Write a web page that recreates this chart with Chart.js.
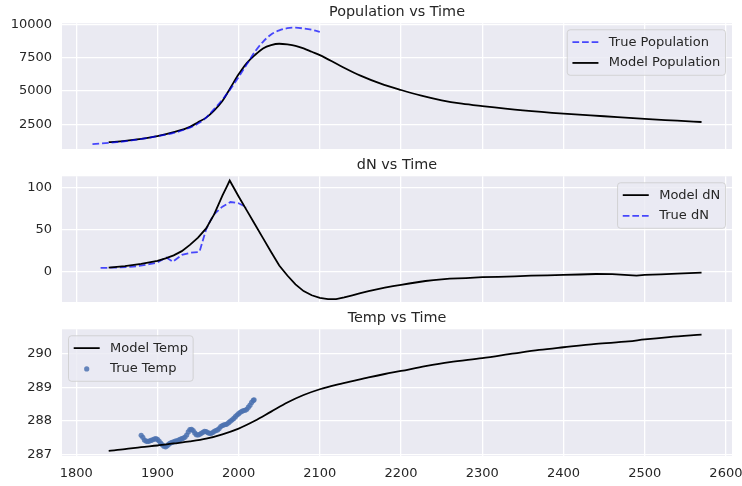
<!DOCTYPE html>
<html>
<head>
<meta charset="utf-8">
<script src="https://cdn.jsdelivr.net/npm/chart.js@4.4.0/dist/chart.umd.min.js"></script>
<style>
  body { margin: 0; background: #fff; width: 742px; height: 486px; overflow: hidden; position: relative; }
  canvas { position: absolute; left: 0; }
</style>
</head>
<body>
<canvas id="popChart" width="742" height="150" style="top:0px"></canvas>
<canvas id="dnChart" width="742" height="150" style="top:153px"></canvas>
<canvas id="tempChart" width="742" height="180" style="top:306px"></canvas>
<script>
// shared x axis
const xTicks = [1800, 1900, 2000, 2100, 2200, 2300, 2400, 2500, 2600];

// Population vs Time
const popYears = [1840, 1860, 1880, 1900, 1920, 1940, 1950, 1960, 1970, 1980, 1990, 2000, 2010, 2020, 2030, 2040, 2050, 2060, 2070, 2080, 2090, 2100, 2125, 2150, 2175, 2200, 2225, 2250, 2275, 2300, 2350, 2400, 2450, 2500, 2540, 2570];
const popModel = [1150, 1250, 1400, 1600, 1900, 2300, 2650, 3000, 3550, 4250, 5250, 6250, 7100, 7700, 8200, 8450, 8550, 8500, 8400, 8200, 7950, 7700, 6900, 6150, 5550, 5075, 4650, 4300, 4050, 3870, 3550, 3300, 3100, 2900, 2770, 2670];
const popTrueYears = [1820, 1850, 1870, 1900, 1920, 1940, 1950, 1960, 1970, 1980, 1990, 2000, 2010, 2020, 2030, 2040, 2050, 2060, 2070, 2080, 2090, 2100];
const popTrue = [1000, 1150, 1300, 1600, 1850, 2250, 2550, 3000, 3650, 4350, 5150, 6050, 7000, 7950, 8700, 9250, 9550, 9720, 9760, 9700, 9600, 9450];
const popTicks = [2500, 5000, 7500, 10000];

// dN vs Time
const dnYears = [1840, 1860, 1880, 1900, 1910, 1920, 1930, 1940, 1950, 1960, 1970, 1980, 1985, 1989, 2000, 2010, 2020, 2030, 2040, 2050, 2060, 2070, 2080, 2090, 2100, 2110, 2120, 2130, 2140, 2150, 2160, 2170, 2180, 2190, 2200, 2210, 2220, 2230, 2240, 2250, 2260, 2270, 2280, 2300, 2320, 2340, 2360, 2380, 2400, 2420, 2440, 2460, 2480, 2490, 2500, 2520, 2540, 2570];
const dnModel = [4.5, 6.3, 8.8, 12.5, 15.5, 19, 24, 31.5, 40, 51, 68, 90, 100, 108, 89, 72.5, 56, 39.5, 23, 7, -5, -15.5, -23.5, -28.5, -31.5, -33, -33, -31, -28.5, -26, -23.5, -21.5, -19.5, -17.5, -16, -14.5, -13, -11.5, -10.5, -9.5, -8.8, -8.5, -8, -7, -6.5, -6, -5.2, -4.8, -4.3, -3.8, -3.2, -3.4, -4.5, -5.0, -4.2, -3.6, -2.8, -1.5];
const dnTrueYears = [1830, 1850, 1870, 1890, 1900, 1911, 1919, 1930, 1940, 1950, 1952, 1960, 1965, 1970, 1980, 1990, 2000, 2010];
const dnTrue = [4, 4.5, 5.5, 8.5, 10.5, 16.5, 11.5, 19.5, 22, 23, 24, 50, 60, 68, 77, 82.5, 81, 76];
const dnTicks = [0, 50, 100];

// Temp vs Time
const tempYears = [1840, 1860, 1880, 1900, 1920, 1940, 1960, 1980, 2000, 2020, 2040, 2060, 2080, 2100, 2120, 2140, 2160, 2180, 2200, 2230, 2260, 2300, 2340, 2370, 2400, 2440, 2480, 2500, 2530, 2570];
const tempModel = [287.12, 287.17, 287.23, 287.28, 287.34, 287.40, 287.48, 287.61, 287.78, 288.01, 288.28, 288.55, 288.77, 288.94, 289.07, 289.18, 289.29, 289.39, 289.48, 289.62, 289.74, 289.86, 290.0, 290.1, 290.18, 290.28, 290.35, 290.41, 290.48, 290.55];
const tempTrueYears = [1880, 1882, 1884, 1886, 1888, 1890, 1892, 1894, 1896, 1898, 1900, 1902, 1904, 1906, 1908, 1910, 1912, 1914, 1916, 1918, 1920, 1922, 1924, 1926, 1928, 1930, 1932, 1934, 1936, 1938, 1940, 1942, 1944, 1946, 1948, 1950, 1952, 1954, 1956, 1958, 1960, 1962, 1964, 1966, 1968, 1970, 1972, 1974, 1976, 1978, 1980, 1982, 1984, 1986, 1988, 1990, 1992, 1994, 1996, 1998, 2000, 2002, 2004, 2006, 2008, 2010, 2012, 2014, 2016, 2018, 2019];
const tempTrue = [287.58, 287.52, 287.44, 287.41, 287.40, 287.41, 287.43, 287.45, 287.47, 287.48, 287.46, 287.41, 287.35, 287.30, 287.26, 287.24, 287.27, 287.32, 287.35, 287.37, 287.39, 287.41, 287.42, 287.44, 287.46, 287.48, 287.50, 287.53, 287.59, 287.68, 287.75, 287.76, 287.72, 287.65, 287.60, 287.59, 287.61, 287.64, 287.67, 287.70, 287.69, 287.66, 287.64, 287.64, 287.66, 287.70, 287.72, 287.74, 287.78, 287.84, 287.87, 287.89, 287.90, 287.92, 287.96, 288.00, 288.04, 288.08, 288.13, 288.18, 288.22, 288.26, 288.29, 288.31, 288.32, 288.35, 288.41, 288.47, 288.55, 288.61, 288.63];
const tempTicks = [287, 288, 289, 290];

const FONT = "'DejaVu Sans', sans-serif";
const TEXT = '#262626';
const BLUE_DASH = 'rgba(0, 0, 255, 0.7)';
const DOT = 'rgba(76, 114, 176, 0.85)';

Chart.defaults.font.family = FONT;
Chart.defaults.font.size = 13;
Chart.defaults.color = TEXT;

const pts = (xs, ys) => xs.map((x, i) => ({ x: x, y: ys[i] }));

// grey plot background like seaborn darkgrid
const plotBg = {
    id: 'plotBg',
    beforeDraw(chart) {
        const { ctx, chartArea: a } = chart;
        ctx.save();
        ctx.fillStyle = '#eaeaf2';
        ctx.fillRect(a.left, a.top, a.right - a.left, a.bottom - a.top);
        ctx.restore();
    }
};

// legend drawn inside the plot, matplotlib style
const boxLegend = {
    id: 'boxLegend',
    afterDatasetsDraw(chart, args, opts) {
        const { ctx, chartArea: a } = chart;
        const fs = 13, pad = 0.4 * fs, handle = 2 * fs, textPad = 0.8 * fs;
        const rowH = 1.1 * fs, gap = 0.5 * fs, margin = 0.5 * fs;
        const items = chart.data.datasets;
        ctx.save();
        ctx.font = fs + 'px ' + FONT;
        const tw = Math.max(...items.map(d => ctx.measureText(d.label).width));
        const w = pad * 2 + handle + textPad + tw;
        const h = pad * 2 + items.length * rowH + (items.length - 1) * gap;
        const x = opts.side === 'left' ? a.left + margin : a.right - margin - w;
        const y = a.top + margin;
        ctx.beginPath();
        ctx.roundRect(x, y, w, h, 3);
        ctx.fillStyle = 'rgba(234, 234, 242, 0.8)';
        ctx.fill();
        ctx.strokeStyle = 'rgba(204, 204, 204, 0.8)';
        ctx.lineWidth = 1;
        ctx.stroke();
        items.forEach((d, i) => {
            const cy = y + pad + rowH / 2 + i * (rowH + gap);
            const hx = x + pad;
            if (d.showLine === false) {
                ctx.beginPath();
                ctx.arc(hx + handle / 2, cy, d.pointRadius, 0, Math.PI * 2);
                ctx.fillStyle = d.pointBackgroundColor;
                ctx.fill();
            } else {
                ctx.beginPath();
                ctx.setLineDash(d.borderDash || []);
                ctx.moveTo(hx, cy);
                ctx.lineTo(hx + handle, cy);
                ctx.strokeStyle = d.borderColor;
                ctx.lineWidth = d.borderWidth;
                ctx.stroke();
                ctx.setLineDash([]);
            }
            ctx.fillStyle = TEXT;
            ctx.textBaseline = 'middle';
            ctx.textAlign = 'left';
            ctx.fillText(d.label, hx + handle + textPad, cy);
        });
        ctx.restore();
    }
};

const gridStyle = { color: '#ffffff', lineWidth: 1.3, drawTicks: false };

function xScale(showLabels) {
    return {
        type: 'linear',
        min: 1782.5,
        max: 2607.5,
        afterBuildTicks: s => { s.ticks = xTicks.map(v => ({ value: v })); },
        afterFit: s => {
            s.height = showLabels ? 30 : 0;
            s.paddingLeft = 0;
            s.paddingRight = 0;
        },
        grid: gridStyle,
        border: { display: false },
        ticks: { display: showLabels, padding: 10, maxRotation: 0, autoSkip: false, callback: v => String(v) }
    };
}

function yScale(min, max, ticks) {
    return {
        type: 'linear',
        min: min,
        max: max,
        afterBuildTicks: s => { s.ticks = ticks.map(v => ({ value: v })); },
        afterFit: s => {
            s.width = 62;
            s.paddingTop = 0;
            s.paddingBottom = 0;
        },
        grid: gridStyle,
        border: { display: false },
        ticks: { padding: 10, callback: v => String(v) }
    };
}

function titleOpts(text) {
    return {
        display: true,
        text: text,
        fullSize: false,
        color: TEXT,
        font: { family: FONT, size: 14.4, weight: 'normal' },
        padding: { top: 4, bottom: 2 }
    };
}

function makeChart(id, datasets, yMin, yMax, yTicks, title, legendSide, showX) {
    return new Chart(document.getElementById(id), {
        type: 'line',
        data: { datasets: datasets },
        options: {
            responsive: false,
            animation: false,
            events: [],
            layout: { padding: { left: 0, right: 10, top: 0, bottom: showX ? 0 : 1 } },
            scales: { x: xScale(showX), y: yScale(yMin, yMax, yTicks) },
            plugins: {
                legend: { display: false },
                tooltip: { enabled: false },
                title: titleOpts(title),
                boxLegend: { side: legendSide }
            }
        },
        plugins: [plotBg, boxLegend]
    });
}

const modelLine = (label, data, tension) => ({
    label: label, data: data,
    borderColor: '#000000', borderWidth: 1.8,
    pointRadius: 0, tension: tension,
    cubicInterpolationMode: tension ? 'monotone' : 'default'
});
const trueLine = (label, data) => ({
    label: label, data: data,
    borderColor: BLUE_DASH, borderWidth: 1.8, borderDash: [6.7, 2.9],
    pointRadius: 0, cubicInterpolationMode: 'monotone'
});

makeChart('popChart', [
    trueLine('True Population', pts(popTrueYears, popTrue)),
    modelLine('Model Population', pts(popYears, popModel), 0.4)
], 640, 10090, popTicks, 'Population vs Time', 'right', false);

makeChart('dnChart', [
    modelLine('Model dN', pts(dnYears, dnModel), 0),
    Object.assign(trueLine('True dN', pts(dnTrueYears, dnTrue)), { cubicInterpolationMode: 'default', tension: 0 })
], -36.5, 113.1, dnTicks, 'dN vs Time', 'right', false);

makeChart('tempChart', [
    modelLine('Model Temp', pts(tempYears, tempModel), 0.4),
    {
        label: 'True Temp',
        data: pts(tempTrueYears, tempTrue),
        showLine: false,
        pointRadius: 2.6,
        pointBackgroundColor: DOT,
        pointBorderWidth: 0,
        borderColor: DOT
    }
], 286.97, 290.71, tempTicks, 'Temp vs Time', 'left', true);
</script>
</body>
</html>
